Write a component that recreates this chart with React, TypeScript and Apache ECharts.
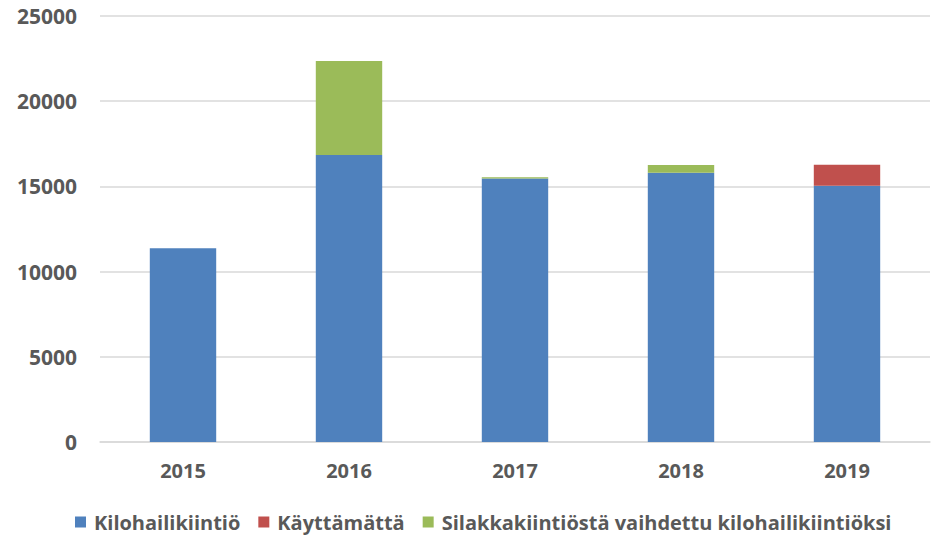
import React, { useEffect, useRef } from "react";
import * as echarts from "echarts";

const years = ["2015", "2016", "2017", "2018", "2019"];
const kilohaili = [11370, 16840, 15470, 15800, 15040];
const kayttamatta = [0, 0, 0, 0, 1230];
const silakka = [0, 5520, 60, 450, 0];
const yTicks = [0, 5000, 10000, 15000, 20000, 25000];

const FONT = "'Open Sans', sans-serif";

export default function App() {
  const ref = useRef<HTMLDivElement>(null);
  useEffect(() => {
    if (!ref.current) return;
    const chart = echarts.init(ref.current, undefined, { renderer: "svg" });
    chart.setOption({
      animation: false,
      textStyle: { fontFamily: FONT },
      grid: { left: 100, right: 2, top: 16, bottom: 98, containLabel: false },
      legend: {
        top: 510,
        left: 75,
        padding: [2, 0, 2, 0],
        itemWidth: 11,
        itemHeight: 11,
        itemGap: 18,
        icon: "rect",
        textStyle: { fontFamily: FONT, fontSize: 20, fontWeight: "bold", color: "#595959", padding: [0, 0, 0, 3] },
        data: ["Kilohailikiintiö", "Käyttämättä", "Silakkakiintiöstä vaihdettu kilohailikiintiöksi"],
      },
      xAxis: {
        type: "category",
        data: years,
        axisLine: { show: true, lineStyle: { color: "#D9D9D9", width: 1.5 } },
        axisTick: { show: false },
        axisLabel: { fontFamily: FONT, fontSize: 20, fontWeight: "bold", color: "#595959", margin: 18 },
      },
      yAxis: {
        type: "value",
        min: yTicks[0],
        max: yTicks[yTicks.length - 1],
        interval: 5000,
        axisLine: { show: false },
        axisTick: { show: false },
        splitLine: { lineStyle: { color: "#D9D9D9", width: 1.5 } },
        axisLabel: {
          fontFamily: FONT,
          fontSize: 21,
          fontWeight: "bold",
          color: "#595959",
          margin: 23,
          formatter: (v: number) => String(v),
        },
      },
      series: [
        { name: "Kilohailikiintiö", type: "bar", stack: "a", barWidth: "40%", data: kilohaili, itemStyle: { color: "#4F81BD" } },
        { name: "Käyttämättä", type: "bar", stack: "a", barWidth: "40%", data: kayttamatta, itemStyle: { color: "#C0504D" } },
        { name: "Silakkakiintiöstä vaihdettu kilohailikiintiöksi", type: "bar", stack: "a", barWidth: "40%", data: silakka, itemStyle: { color: "#9BBB59" } },
      ],
    });
    return () => chart.dispose();
  }, []);
  return <div ref={ref} style={{ width: 932, height: 540, position: "absolute", left: 0, top: 0 }} />;
}
